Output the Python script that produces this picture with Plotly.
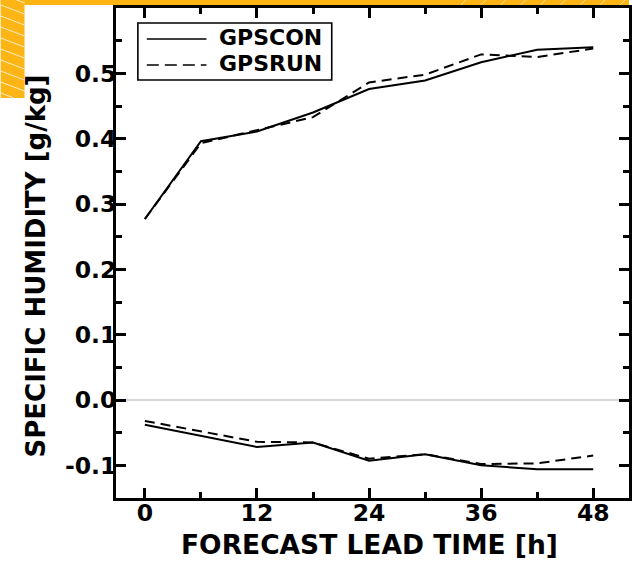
import plotly.graph_objects as go

# ---- data ----
hours = [0, 6, 12, 18, 24, 30, 36, 42, 48]
gpscon_upper = [0.277, 0.396, 0.411, 0.440, 0.476, 0.489, 0.517, 0.536, 0.540]
gpsrun_upper = [0.277, 0.393, 0.413, 0.433, 0.486, 0.498, 0.529, 0.525, 0.538]
gpscon_lower = [-0.038, -0.055, -0.072, -0.065, -0.093, -0.083, -0.100, -0.106, -0.106]
gpsrun_lower = [-0.032, -0.048, -0.064, -0.065, -0.090, -0.083, -0.098, -0.097, -0.085]
series_names = ["GPSCON", "GPSRUN"]
x_title = "FORECAST LEAD TIME [h]"
y_title = "SPECIFIC HUMIDITY [g/kg]"
y_tickvals = [-0.1, 0.0, 0.1, 0.2, 0.3, 0.4, 0.5]
y_ticktext = ["-0.1", "0.0", "0.1", "0.2", "0.3", "0.4", "0.5"]

W, H = 632, 565
ML, MR, MT, MB = 116, 0, 8, 67
PW, PH = W - ML - MR, H - MT - MB
FONT = "DejaVu Sans"
ORANGE = "#FDB515"


def px(x):
    return (x - ML) / PW


def py(y):
    return (H - MB - y) / PH


fig = go.Figure()
line_styles = {"GPSCON": dict(color="black", width=2),
               "GPSRUN": dict(color="black", width=2, dash="10px,6px")}
for name, up, lo in [("GPSCON", gpscon_upper, gpscon_lower),
                     ("GPSRUN", gpsrun_upper, gpsrun_lower)]:
    fig.add_trace(go.Scatter(x=hours, y=up, mode="lines", name=name,
                             line=line_styles[name], showlegend=False))
    fig.add_trace(go.Scatter(x=hours, y=lo, mode="lines", name=name,
                             line=line_styles[name], showlegend=False))

shapes = []
# orange decoration: top band and left block
shapes.append(dict(type="rect", xref="paper", yref="paper", x0=px(0), x1=px(W),
                   y0=py(5), y1=py(0), fillcolor=ORANGE, line=dict(width=0), layer="above"))
shapes.append(dict(type="rect", xref="paper", yref="paper", x0=px(0), x1=px(24),
                   y0=py(98), y1=py(0), fillcolor=ORANGE, line=dict(width=0), layer="above"))
for y0 in range(-6, 98, 11):
    xa, ya, xb, yb = 0.0, float(y0), 24.0, y0 + 9.0
    if ya < 0:
        xa, ya = -y0 / 9.0 * 24.0, 0.0
    if yb > 98:
        xb, yb = (98 - y0) / 9.0 * 24.0, 98.0
    shapes.append(dict(type="line", xref="paper", yref="paper", x0=px(xa), y0=py(ya),
                       x1=px(xb), y1=py(yb), line=dict(color="rgba(255,255,255,0.75)", width=1),
                       layer="above"))
for xs in range(463, 632, 20):
    shapes.append(dict(type="line", xref="paper", yref="paper", x0=px(xs), y0=py(5),
                       x1=px(xs + 5), y1=py(0), line=dict(color="rgba(255,255,255,0.6)", width=1),
                       layer="above"))

# manual legend
shapes.append(dict(type="rect", xref="paper", yref="paper", x0=px(138), x1=px(333),
                   y0=py(80), y1=py(23), line=dict(color="black", width=1.6),
                   fillcolor="white", layer="above"))
shapes.append(dict(type="line", xref="paper", yref="paper", x0=px(147), x1=px(207),
                   y0=py(39), y1=py(39), line=dict(color="black", width=1.6), layer="above"))
shapes.append(dict(type="line", xref="paper", yref="paper", x0=px(147), x1=px(207),
                   y0=py(65), y1=py(65), line=dict(color="black", width=1.6, dash="12px,6px"),
                   layer="above"))

annotations = [
    dict(text=series_names[0], xref="paper", yref="paper", x=px(218), y=py(38),
         xanchor="left", yanchor="middle", showarrow=False,
         font=dict(family=FONT, size=22, color="black", weight="bold")),
    dict(text=series_names[1], xref="paper", yref="paper", x=px(218), y=py(63),
         xanchor="left", yanchor="middle", showarrow=False,
         font=dict(family=FONT, size=22, color="black", weight="bold")),
    dict(text=y_title, xref="paper", yref="paper", x=px(36), y=py(266),
         xanchor="center", yanchor="middle", showarrow=False, textangle=-90,
         font=dict(family=FONT, size=26, color="black", weight="bold")),
    dict(text=x_title, xref="paper", yref="paper", x=px(371), y=py(544),
         xanchor="center", yanchor="middle", showarrow=False,
         font=dict(family=FONT, size=26.5, color="black", weight="bold")),
]

axis_common = dict(showline=True, linecolor="black", linewidth=3, mirror="ticks",
                   ticks="inside", ticklen=10, tickwidth=3, tickcolor="black",
                   showgrid=False,
                   tickfont=dict(family=FONT, size=23.5, color="black", weight="bold"))

fig.update_layout(
    width=W, height=H,
    margin=dict(l=ML, r=MR, t=MT, b=MB),
    paper_bgcolor="white", plot_bgcolor="white",
    shapes=shapes, annotations=annotations,
    xaxis=dict(range=[-3.09, 51.83], tickmode="linear", tick0=0, dtick=12,
               zeroline=False, ticklabelstandoff=-8,
               minor=dict(ticks="inside", tickmode="linear", tick0=0, dtick=6, ticklen=6,
                          tickwidth=3, tickcolor="black", showgrid=False),
               **axis_common),
    yaxis=dict(range=[-0.15, 0.6], tickmode="array", tickvals=y_tickvals,
               ticktext=y_ticktext, zeroline=True, zerolinecolor="#d6d6d6", zerolinewidth=2,
               ticklabelstandoff=-8,
               minor=dict(ticks="inside", tickmode="linear", tick0=0, dtick=0.05, ticklen=6,
                          tickwidth=3, tickcolor="black", showgrid=False),
               **axis_common),
)

fig.write_html("out.html")
